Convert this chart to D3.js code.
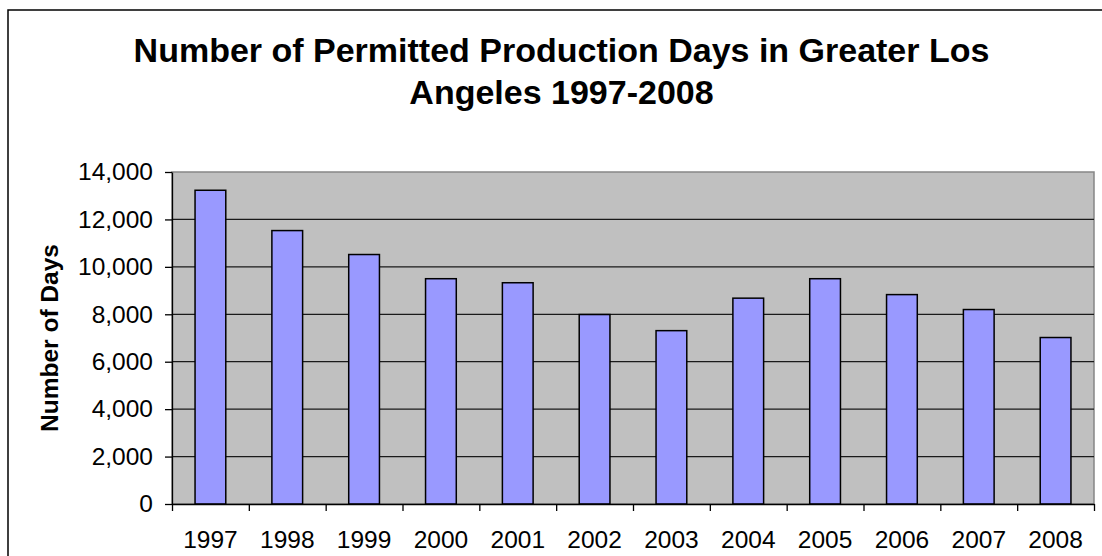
<!DOCTYPE html>
<html>
<head>
<meta charset="utf-8">
<script src="https://cdn.jsdelivr.net/npm/d3@7"></script>
<style>
    body { margin: 0; background: #fff; }
    svg { display: block; font-family: "Liberation Sans", Arial, sans-serif; }
    .axis path, .axis line { stroke: #000; stroke-width: 1.3px; }
    .axis text { fill: #000; font-size: 24.5px; }
</style>
</head>
<body>
<svg id="chart" width="1102" height="556"></svg>
<script>
// Chart data
const years = ['1997', '1998', '1999', '2000', '2001', '2002', '2003', '2004', '2005', '2006', '2007', '2008'];
const days = [13230, 11530, 10520, 9500, 9330, 7990, 7310, 8680, 9500, 8830, 8200, 7020];
const yTicks = [0, 2000, 4000, 6000, 8000, 10000, 12000, 14000];
const titleLines = ['Number of Permitted Production Days in Greater Los', 'Angeles 1997-2008'];
const yLabel = 'Number of Days';

const svg = d3.select('#chart');

// Plot area
const plot = { left: 172, top: 172, right: 1094, bottom: 504 };

// Outer chart frame (cut off at right and bottom)
svg.append('rect')
    .attr('x', 8)
    .attr('y', 10)
    .attr('width', 1200)
    .attr('height', 700)
    .attr('fill', '#fff')
    .attr('stroke', '#000')
    .attr('stroke-width', 1.5);

// Scales
const x = d3.scaleBand()
    .domain(years)
    .range([plot.left, plot.right])
    .paddingInner(0.6)
    .paddingOuter(0.3);

const y = d3.scaleLinear()
    .domain([0, 14000])
    .range([plot.bottom, plot.top]);

const xEdges = d3.scaleLinear()
    .domain([0, years.length])
    .range([plot.left, plot.right]);

// Plot background
svg.append('rect')
    .attr('x', plot.left)
    .attr('y', plot.top)
    .attr('width', plot.right - plot.left)
    .attr('height', plot.bottom - plot.top)
    .attr('fill', '#c0c0c0')
    .attr('stroke', '#868686')
    .attr('stroke-width', 1.5);

// Gridlines
svg.append('g')
    .selectAll('line')
    .data(yTicks.filter((d) => d > 0 && d < 14000))
    .join('line')
    .attr('x1', plot.left)
    .attr('x2', plot.right)
    .attr('y1', (d) => y(d))
    .attr('y2', (d) => y(d))
    .attr('stroke', '#1a1a1a')
    .attr('stroke-width', 1.2);

// Bars
svg.append('g')
    .selectAll('rect')
    .data(days)
    .join('rect')
    .attr('x', (d, i) => x(years[i]))
    .attr('y', (d) => y(d))
    .attr('width', x.bandwidth())
    .attr('height', (d) => y(0) - y(d))
    .attr('fill', '#9999ff')
    .attr('stroke', '#000')
    .attr('stroke-width', 1.5);

// Y axis
svg.append('g')
    .attr('class', 'axis')
    .attr('transform', `translate(${plot.left}, 0)`)
    .call(d3.axisLeft(y)
        .tickValues(yTicks)
        .tickSize(7)
        .tickPadding(12)
        .tickSizeOuter(0)
        .tickFormat(d3.format(',')));

// X axis: tick marks at category edges
svg.append('g')
    .attr('class', 'axis')
    .attr('transform', `translate(0, ${plot.bottom})`)
    .call(d3.axisBottom(xEdges)
        .tickValues(d3.range(years.length + 1))
        .tickSize(7)
        .tickSizeOuter(0)
        .tickFormat(''));

// X axis: category labels
svg.append('g')
    .attr('class', 'axis')
    .attr('transform', `translate(0, ${plot.bottom})`)
    .call(d3.axisBottom(x).tickSize(0).tickPadding(27))
    .call((g) => g.select('.domain').remove());

// Title
svg.append('text')
    .attr('x', 561.5)
    .attr('text-anchor', 'middle')
    .style('font-size', '34px')
    .style('font-weight', 'bold')
    .selectAll('tspan')
    .data(titleLines)
    .join('tspan')
    .attr('x', 561.5)
    .attr('y', (d, i) => 62 + i * 42)
    .text((d) => d);

// Y axis label
svg.append('text')
    .attr('transform', `translate(58, ${(plot.top + plot.bottom) / 2}) rotate(-90)`)
    .attr('text-anchor', 'middle')
    .style('font-size', '24.5px')
    .style('font-weight', 'bold')
    .text(yLabel);
</script>
</body>
</html>
